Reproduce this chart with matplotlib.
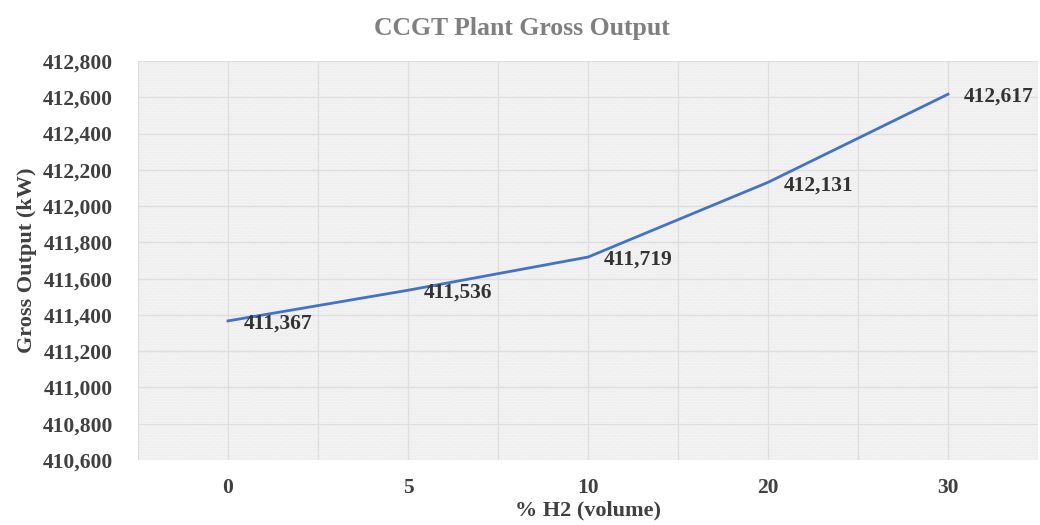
import matplotlib
matplotlib.use('Agg')
import matplotlib.pyplot as plt
from matplotlib.ticker import FuncFormatter, MultipleLocator

# data
h2_pct = ['0', '5', '10', '20', '30']
gross_kw = [411367, 411536, 411719, 412131, 412617]

plt.rcParams['font.family'] = ['Liberation Serif', 'DejaVu Serif']
plt.rcParams['font.weight'] = 'bold'

fig = plt.figure(figsize=(10.4, 5.25), dpi=100)
ax = fig.add_axes([0.1327, 0.1238, 0.8654, 0.76])

ax.set_facecolor('#f4f4f4')
ax.patch.set_hatch('......')
ax.patch.set_edgecolor('#ebebeb')
ax.patch.set_linewidth(0)

x = list(range(len(h2_pct)))
ax.plot(x, gross_kw, color='#4472c4', lw=2, zorder=3)

for xi, v in zip(x, gross_kw):
    ax.annotate(f'{v:,}', (xi, v), xytext=(11, -2), textcoords='offset points',
                ha='left', va='center', fontsize=15.5, fontweight='bold',
                color='#333333', zorder=4)

ax.set_xlim(-0.5, len(h2_pct) - 0.5)
ax.set_ylim(410600, 412800)
ax.set_xticks(x)
ax.set_xticklabels(h2_pct)
ax.xaxis.set_minor_locator(MultipleLocator(0.5))
ax.yaxis.set_major_locator(MultipleLocator(200))
ax.yaxis.set_major_formatter(FuncFormatter(lambda v, p: f'{int(v):,}'))

ax.grid(True, which='both', axis='x', color='#dedede', lw=0.9)
ax.grid(True, which='major', axis='y', color='#dedede', lw=0.9)
ax.set_axisbelow(True)
ax.tick_params(which='both', length=0)
ax.tick_params(axis='x', pad=13)
ax.tick_params(axis='y', pad=18)
for lab in ax.get_xticklabels() + ax.get_yticklabels():
    lab.set_fontsize(15.5)
    lab.set_fontweight('bold')
    lab.set_color('#404040')
for s in ax.spines.values():
    s.set_visible(False)

ax.set_xlabel('% H2 (volume)', fontsize=16, fontweight='bold', color='#404040', labelpad=2)
ax.set_ylabel('Gross Output (kW)', fontsize=16, fontweight='bold', color='#404040', labelpad=4)
fig.text(0.502, 0.946, 'CCGT Plant Gross Output', ha='center', va='center',
         fontsize=18.5, fontweight='bold', color='#7f7f7f')

fig.savefig('out.png', dpi=100)
